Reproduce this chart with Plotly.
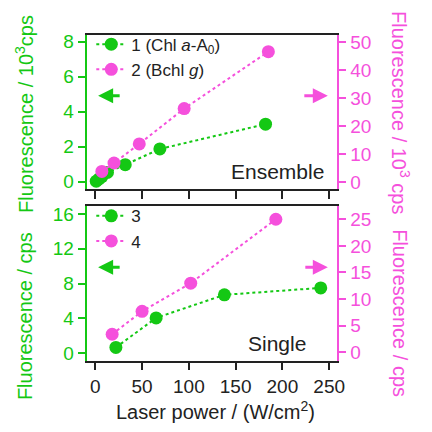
import plotly.graph_objects as go

# Data
x1 = [1, 4, 7, 13, 32, 69, 182]
y1 = [0.02, 0.15, 0.28, 0.52, 0.96, 1.86, 3.28]          # 10^3 cps (left)
x2 = [7, 20, 47, 95, 185]
y2 = [3.8, 6.8, 13.6, 26.2, 46.5]                          # 10^3 cps (right)
x3 = [22, 65, 138, 241]
y3 = [0.65, 4.05, 6.7, 7.5]                                # cps (left)
x4 = [18, 50, 102, 193]
y4 = [3.4, 7.7, 13.0, 25.0]                                # cps (right)
xticks = [0, 50, 100, 150, 200, 250]

GREEN = "#14c814"
MAG = "#f550dc"
FONT = "Liberation Sans"
W = H = 432

def px(v):
    return v / W
def py(v):
    return 1 - v / H

fig = go.Figure()
mk = dict(size=13)
fig.add_trace(go.Scatter(x=x1, y=y1, mode="lines+markers", name="1 (Chl <i>a</i>-A<sub>0</sub>)",
                         line=dict(color=GREEN, dash="dot", width=2), marker=dict(color=GREEN, **mk),
                         xaxis="x", yaxis="y", legend="legend"))
fig.add_trace(go.Scatter(x=x2, y=y2, mode="lines+markers", name="2 (Bchl <i>g</i>)",
                         line=dict(color=MAG, dash="dot", width=2), marker=dict(color=MAG, **mk),
                         xaxis="x", yaxis="y2", legend="legend"))
fig.add_trace(go.Scatter(x=x3, y=y3, mode="lines+markers", name="3",
                         line=dict(color=GREEN, dash="dot", width=2), marker=dict(color=GREEN, **mk),
                         xaxis="x2", yaxis="y3", legend="legend2"))
fig.add_trace(go.Scatter(x=x4, y=y4, mode="lines+markers", name="4",
                         line=dict(color=MAG, dash="dot", width=2), marker=dict(color=MAG, **mk),
                         xaxis="x2", yaxis="y4", legend="legend2"))

xdom = [px(89), px(343)]
top_dom = [py(189), py(32)]
bot_dom = [py(362.7), py(206)]
tickfont = dict(family=FONT, size=19)
common_x = dict(domain=xdom, range=[-8.5, 258], tickvals=xticks, ticks="outside", ticklen=8, tickwidth=1.5,
                tickcolor="#222", showline=True, linecolor="#222", linewidth=1.5, mirror=True,
                showgrid=False, zeroline=False)
common_y = dict(ticks="outside", ticklen=8, tickwidth=1.5, showline=True, linewidth=1.5,
                showgrid=False, zeroline=False)
legfont = dict(family=FONT, size=17, color="#222")

fig.update_layout(
    width=W, height=H, autosize=False,
    margin=dict(l=0, r=0, t=0, b=0),
    paper_bgcolor="white", plot_bgcolor="white",
    font=dict(family=FONT, size=19, color="#222"),
    xaxis=dict(anchor="y", showticklabels=False, **common_x),
    xaxis2=dict(anchor="y3", showticklabels=True, tickfont=dict(family=FONT, size=19, color="#222"), **common_x),
    yaxis=dict(domain=top_dom, range=[-0.45, 8.4], dtick=2, side="left", anchor="x",
               linecolor=GREEN, tickcolor=GREEN, tickfont=dict(color=GREEN, **tickfont), **common_y),
    yaxis2=dict(domain=top_dom, range=[-2.6, 52.6], dtick=10, side="right", anchor="x", overlaying="y",
                linecolor=MAG, tickcolor=MAG, tickfont=dict(color=MAG, **tickfont), **common_y),
    yaxis3=dict(domain=bot_dom, range=[-0.87, 16.9], dtick=4, side="left", anchor="x2",
                linecolor=GREEN, tickcolor=GREEN, tickfont=dict(color=GREEN, **tickfont), **common_y),
    yaxis4=dict(domain=bot_dom, range=[-1.56, 27.46], dtick=5, side="right", anchor="x2", overlaying="y3",
                linecolor=MAG, tickcolor=MAG, tickfont=dict(color=MAG, **tickfont), **common_y),
    legend=dict(x=px(93), y=py(24), xanchor="left", yanchor="top", bgcolor="rgba(0,0,0,0)",
                font=legfont, tracegroupgap=0),
    legend2=dict(x=px(93), y=py(198), xanchor="left", yanchor="top", bgcolor="rgba(0,0,0,0)",
                 font=legfont, tracegroupgap=0),
    showlegend=True,
)

ann = []
def label(text, x, y, color, angle=0, xanchor="center", size=20):
    return dict(text=text, x=px(x), y=py(y), xref="paper", yref="paper", textangle=angle,
                xanchor=xanchor, yanchor="middle", showarrow=False,
                font=dict(family=FONT, size=size, color=color))

ann.append(label("Fluorescence / 10<sup>3</sup>cps", 25, 113, GREEN, -90))
ann.append(label("Fluorescence / cps", 25, 318, GREEN, -90))
ann.append(label("Fluorescence / 10<sup>3</sup> cps", 408, 111, MAG, 90))
ann.append(label("Fluorescence / cps", 408, 315, MAG, 90))
ann.append(label("Laser power / (W/cm<sup>2</sup>)", 220, 413, "#222", size=20))
ann.append(label("Ensemble", 332, 171, "#222", 0, "right", size=21))
ann.append(label("Single", 314, 345, "#222", 0, "right", size=21))
# direction arrows
for (hx, tx, yy, col) in [(100, 123, 94, GREEN), (334, 309, 94, MAG), (100, 123, 268, GREEN), (334, 310, 268, MAG)]:
    ann.append(dict(text="", x=px(hx), y=py(yy), xref="paper", yref="paper", ax=tx - hx, ay=0,
                    showarrow=True, arrowhead=2, arrowsize=1, arrowwidth=3, arrowcolor=col, standoff=0))
fig.update_layout(annotations=ann)

fig.write_html("out.html", config={"displayModeBar": False},
               post_script="document.body.style.margin='0';")
